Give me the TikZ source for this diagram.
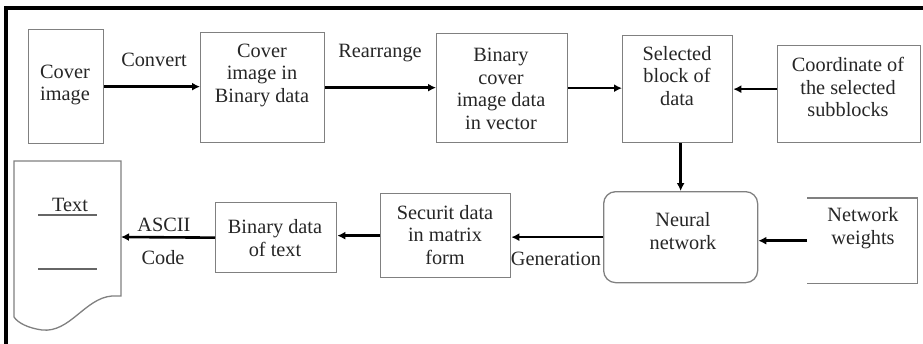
\documentclass[tikz,border=0pt]{standalone}
\usepackage{fontspec}
\setmainfont{Liberation Serif}
\usetikzlibrary{arrows.meta}
\begin{document}
\begin{tikzpicture}[x=1pt,y=-1pt,
  boxline/.style={draw=black!50, line width=1.3pt},
  box/.style={boxline, inner sep=0pt, anchor=north west},
  nobox/.style={inner sep=0pt, anchor=north west},
  txt/.style={text=black!85, align=center, inner sep=0pt, font=\fontsize{20.3}{22.5}\selectfont},
  arr/.style={line width=2.6pt, -{Latex[length=8pt,width=8pt]}},
  frame/.style={line width=3.5pt}
]
\useasboundingbox (0,0) rectangle (923,343);
% outer frame (only top and left visible)
\coordinate (fbl) at (6,350);
\coordinate (ftl) at (6,8);
\coordinate (ftr) at (930,8);
\draw[frame] (fbl) -- (ftl) -- (ftr);

% boxes
\node[box, minimum width=75pt, minimum height=114pt] (cover) at (28,29) {};
\node[box, minimum width=124pt, minimum height=110pt] (cib) at (200,32) {};
\node[box, minimum width=131pt, minimum height=109pt] (vec) at (436,33) {};
\node[box, minimum width=110pt, minimum height=107pt] (sel) at (622,35) {};
\node[box, minimum width=143pt, minimum height=97pt] (coord) at (777,45) {};
\node[box, rounded corners=12pt, minimum width=154pt, minimum height=91pt] (nn) at (603,191) {};
\node[nobox, minimum width=110pt, minimum height=85pt] (nw) at (807,198) {};
\draw[boxline] (nw.north west) -- (nw.north east) -- (nw.south east) -- (nw.south west);
\node[box, minimum width=130pt, minimum height=84pt] (sec) at (380,193) {};
\node[box, minimum width=121pt, minimum height=70pt] (bdt) at (215,202) {};

% document shape
\draw[boxline] (14,317) -- (14,161) -- (121,161) -- (121,296) -- (112,296)
  .. controls (85,298) and (70,333) .. (42,330)
  .. controls (28,328) and (18,323) .. (14,317);
\coordinate (docR) at (121,237);
\coordinate (ul1a) at (38,215);
\coordinate (ul1b) at (97,215);
\coordinate (ul2a) at (38,269);
\coordinate (ul2b) at (97,269);
\draw[black!60, line width=1.2pt] (ul1a) -- (ul1b);
\draw[black!60, line width=1.2pt] (ul2a) -- (ul2b);

% texts inside boxes
\node[txt] (tcover) at (65,85) {Cover\\image};
\node[txt] (tcib) at (262,75) {Cover\\image in\\Binary data};
\node[txt] (tvec) at (501,89) {Binary\\cover\\image data\\in vector};
\node[txt] (tsel) at (677,76) {Selected\\block of\\data};
\node[txt] (tcoord) at (848,87) {Coordinate of\\the selected\\subblocks};
\node[txt] (tnn) at (683,231) {Neural\\network};
\node[txt] (tnw) at (863,228) {Network\\weights};
\node[txt] (tsec) at (445,235) {Securit data\\in matrix\\form};
\node[txt] (tbdt) at (275,238) {Binary data\\of text};
\node[txt] (ttext) at (70,205) {Text};

% connector labels
\node[txt] (lconv) at (154,60) {Convert};
\node[txt] (lrear) at (380,53) {Rearrange};
\node[txt] (lgen) at (556,259) {Generation};
\node[txt] (lascii) at (164,225) {ASCII};
\node[txt] (lcode) at (163,258) {Code};

% connectors
\draw[arr] (cover.east) -- (cover.east -| cib.west);
\draw[arr] (cib.east) -- (cib.east -| vec.west);
\draw[arr] (vec.east) -- (vec.east -| sel.west);
\draw[arr] (coord.west |- sel.east) -- (sel.east);
\draw[arr] ([xshift=3pt]sel.south) -- ([xshift=3pt]sel.south |- nn.north);
\draw[arr] (nw.west) -- (nw.west -| nn.east);
\draw[arr] (nn.west) -- (nn.west -| sec.east);
\draw[arr] (sec.west) -- (sec.west -| bdt.east);
\draw[arr] (bdt.west) -- (docR);
\end{tikzpicture}
\end{document}
